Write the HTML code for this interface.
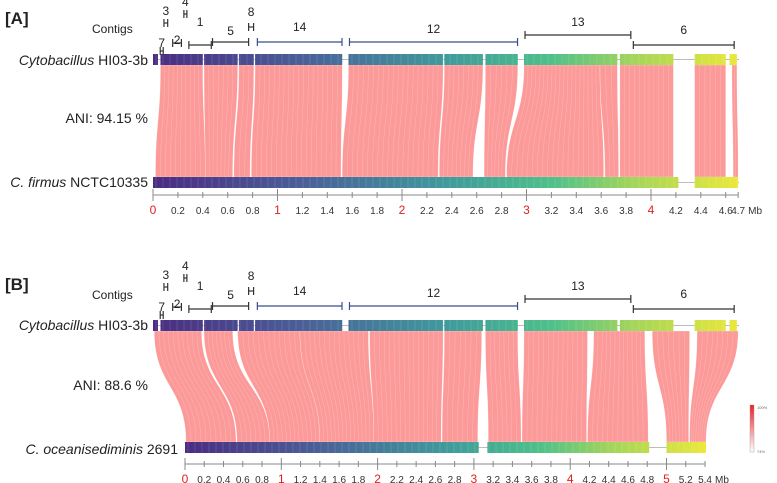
<!DOCTYPE html>
<html><head><meta charset="utf-8"><style>
html,body{margin:0;padding:0;background:#fff}
svg{display:block}
text{font-family:"Liberation Sans",Arial,sans-serif}
</style></head><body>
<svg id="fig" width="777" height="483" viewBox="0 0 777 483" xmlns="http://www.w3.org/2000/svg">
<defs>
<linearGradient id="vir" x1="0" x2="1" y1="0" y2="0">
<stop offset="0" stop-color="#4a2c82"/><stop offset="0.25" stop-color="#4a5e98"/>
<stop offset="0.5" stop-color="#3f9a9c"/><stop offset="0.68" stop-color="#4ec08a"/>
<stop offset="0.82" stop-color="#a4d55a"/><stop offset="1" stop-color="#ebe83a"/>
</linearGradient>
<linearGradient id="leg" x1="0" x2="0" y1="0" y2="1">
<stop offset="0" stop-color="#f02020"/><stop offset="1" stop-color="#ffffff"/>
</linearGradient>
</defs>
<g id="root"></g>
<text x="5" y="24" font-size="17" font-weight="bold" fill="#222">[A]</text>
<text x="5" y="290" font-size="17" font-weight="bold" fill="#222">[B]</text>
<text x="92" y="33" font-size="12" fill="#222">Contigs</text>
<text x="92" y="299" font-size="12" fill="#222">Contigs</text>
<text x="148" y="65" font-size="14" text-anchor="end" fill="#222"><tspan font-style="italic">Cytobacillus</tspan> HI03-3b</text>
<text x="148" y="123" font-size="14" text-anchor="end" fill="#222">ANI: 94.15 %</text>
<text x="148" y="187" font-size="14" text-anchor="end" fill="#222"><tspan font-style="italic">C. firmus</tspan> NCTC10335</text>
<text x="148" y="330" font-size="14" text-anchor="end" fill="#222"><tspan font-style="italic">Cytobacillus</tspan> HI03-3b</text>
<text x="148" y="390" font-size="14" text-anchor="end" fill="#222">ANI: 88.6 %</text>
<text x="178" y="454" font-size="14" text-anchor="end" fill="#222"><tspan font-style="italic">C. oceanisediminis</tspan> 2691</text>
<rect x="750" y="405" width="4" height="47" fill="url(#leg)" stroke="#999" stroke-width="0.4"/>
<text x="757" y="409" font-size="4" fill="#666">100%</text>
<text x="757" y="453" font-size="4" fill="#666">74%</text>
</svg>
<script>
const contigNames = ['7','3','2','4','1','5','8','14','12','13','6'];
const contigStart = [0.05,0.08,0.15,0.24,0.28,0.47,0.76,0.83,1.57,2.98,3.85];
const contigEnd   = [0.06,0.11,0.22,0.26,0.46,0.76,0.80,1.51,2.92,3.83,4.66];
const contigBlue  = [0,0,0,0,0,0,0,1,1,0,0];
const topSegStart = [0.0,0.06,0.41,0.69,0.82,1.57,2.34,2.67,2.98,3.75,4.35,4.63];
const topSegEnd   = [0.04,0.40,0.68,0.81,1.52,2.33,2.65,2.93,3.73,4.18,4.60,4.69];
const aTopS = [0.06,0.41,0.69,0.82,1.57,2.34,2.67,2.98,3.59,3.75,4.35,4.65];
const aTopE = [0.40,0.68,0.81,1.52,2.33,2.65,2.93,3.59,3.73,4.18,4.60,4.69];
const aBotS = [0.02,0.42,0.65,0.79,1.52,2.30,2.66,2.84,3.63,3.75,4.35,4.66];
const aBotE = [0.42,0.64,0.78,1.51,2.29,2.57,2.83,3.62,3.74,4.18,4.60,4.70];
const aBotSegS = [0.0,4.35];
const aBotSegE = [4.22,4.70];
const bTopS = [0.01,0.41,0.68,1.18,1.74,2.34,2.67,2.98,3.54,4.01,4.37];
const bTopE = [0.39,0.64,1.18,1.73,2.33,2.64,2.93,3.49,3.95,4.31,4.70];
const bBotS = [0.01,0.54,0.88,1.40,1.96,2.67,3.15,3.50,4.18,5.00,5.24];
const bBotE = [0.53,0.88,1.40,1.96,2.66,3.04,3.49,4.17,4.81,5.23,5.41];
const bBotSegS = [0.0,3.14,5.0];
const bBotSegE = [3.05,4.82,5.41];
const aAxisMax = 4.7, bAxisMax = 5.4;

const NS='http://www.w3.org/2000/svg';
const root=document.getElementById('root');
function el(t,a,p){const e=document.createElementNS(NS,t);for(const k in a)e.setAttribute(k,a[k]);(p||root).appendChild(e);return e;}
const topX = m => 153 + m*124.5;
const aBotX = m => 153 + m*124.5;
const bBotX = m => 185 + m*96.3;

function ribbons(ts,te,bs,be,bx,yt,yb,name){
  const g=el('g',{});
  
  
  const ym=(yt+yb)/2;
  for(let i=0;i<ts.length;i++){
    const x1=topX(ts[i]),x2=topX(te[i]),x3=bx(bs[i]),x4=bx(be[i]);
    const p=el('path',{d:`M${x1},${yt} C${x1},${ym} ${x3},${ym} ${x3},${yb} L${x4},${yb} C${x4},${ym} ${x2},${ym} ${x2},${yt} Z`,fill:'rgba(250,90,90,0.62)',stroke:'rgba(255,255,255,0.5)','stroke-width':'0.5'},g);
    
    
    const w=Math.max(x2-x1,x4-x3), n=Math.max(2,Math.round(w/5));
    for(let k=1;k<n;k++){
      const f=k/n,xa=x1+(x2-x1)*f,xb=x3+(x4-x3)*f;
      el('path',{d:`M${xa},${yt} C${xa},${ym} ${xb},${ym} ${xb},${yb}`,fill:'none',stroke:'rgba(255,255,255,0.3)','stroke-width':'0.5'},g);
    }
  }
  return g;
}
function bar(ss,se,sx,y,x0,x1,name){
  const g=el('g',{});
  
  
  el('line',{x1:x0,x2:x1,y1:y+5.5,y2:y+5.5,stroke:'#bbb','stroke-width':'1'},g);
  const cp=el('clipPath',{id:name+'-clip'},g);
  for(let i=0;i<ss.length;i++) el('rect',{x:sx(ss[i]),y:y,width:Math.max(1,sx(se[i])-sx(ss[i])),height:11},cp);
  el('rect',{x:x0,y:y,width:x1-x0,height:11,fill:'url(#vir)','clip-path':`url(#${name}-clip)`},g);
  for(let x=x0+3;x<x1;x+=7) el('line',{x1:x,x2:x,y1:y,y2:y+11,stroke:'rgba(255,255,255,0.18)','stroke-width':'0.7'},g);
}
function axis(max,sx,y,name){
  const g=el('g',{});
  
  
  el('line',{x1:sx(0),x2:sx(max),y1:y,y2:y,stroke:'#888','stroke-width':'1'},g);
  const n=Math.floor(max/0.2+1e-6);
  const vals=[];for(let i=0;i<=n;i++)vals.push(+(i*0.2).toFixed(1));
  if(Math.abs(vals[vals.length-1]-max)>0.01)vals.push(max);
  vals.forEach(v=>{
    const x=sx(v),isInt=Math.abs(v-Math.round(v))<0.001;
    el('line',{x1:x,x2:x,y1:y-(isInt?6:3),y2:y+(isInt?6:3),stroke:'#888','stroke-width':'1'},g);
    const t=el('text',{x:x,y:y+19,'font-size':isInt?'12':'10','text-anchor':'middle',fill:isInt?'#e02020':'#333'},g);
    t.textContent=isInt?String(Math.round(v)):v.toFixed(1);
    
    
  });
  const m=el('text',{x:sx(max)+10,y:y+19,'font-size':'10',fill:'#333'},g);
  m.textContent='Mb';
  
  
}
const contigLabelY=[50,15,44,6,26,35,16,31,33,26,34];
const contigBarY=[51,23,43,14,45,42,27,42,42,35,45];
function contigs(dy,name){
  const g=el('g',{});
  
  
  for(let i=0;i<contigNames.length;i++){
    const x1=topX(contigStart[i])+1,x2=Math.max(topX(contigEnd[i])+1,x1+3),y=contigBarY[i]+dy;
    const c=contigBlue[i]?'#3a4e8a':'#333';
    el('line',{x1,x2,y1:y,y2:y,stroke:c,'stroke-width':'1.2'},g);
    el('line',{x1,x2:x1,y1:y-4,y2:y+4,stroke:c,'stroke-width':'1.2'},g);
    el('line',{x1:x2,x2:x2,y1:y-4,y2:y+4,stroke:c,'stroke-width':'1.2'},g);
    const t=el('text',{x:(x1+x2)/2,y:contigLabelY[i]+dy,'font-size':'12','text-anchor':'middle',fill:'#222'},g);
    if(i==0)t.setAttribute('y',contigBarY[i]+dy-4);
    t.textContent=contigNames[i];
    
    
  }
}
ribbons(aTopS,aTopE,aBotS,aBotE,aBotX,65,177,'panel-a-ribbons');
bar(topSegStart,topSegEnd,topX,54,153,739,'panel-a-top-bar');
bar(aBotSegS,aBotSegE,aBotX,177,153,739,'panel-a-bottom-bar');
axis(aAxisMax,aBotX,195,'panel-a-axis');
contigs(0,'panel-a-contigs');
ribbons(bTopS,bTopE,bBotS,bBotE,bBotX,331,442,'panel-b-ribbons');
bar(topSegStart,topSegEnd,topX,320,153,739,'panel-b-top-bar');
bar(bBotSegS,bBotSegE,bBotX,442,185,706,'panel-b-bottom-bar');
axis(bAxisMax,bBotX,464,'panel-b-axis');
contigs(264,'panel-b-contigs');
</script>
</body></html>
